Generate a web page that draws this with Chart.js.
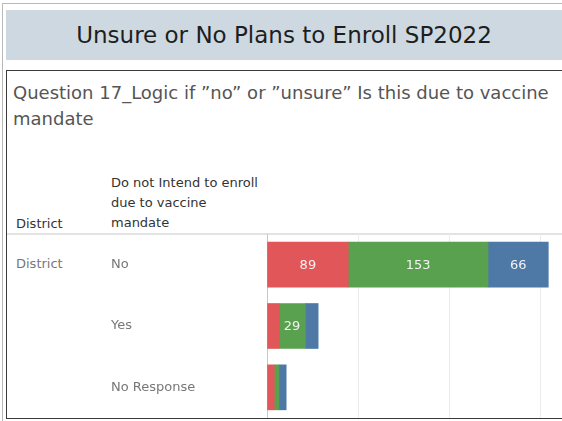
<!DOCTYPE html>
<html>
<head>
<meta charset="utf-8">
<script src="https://cdn.jsdelivr.net/npm/chart.js@4"></script>
<style>
  body { margin: 0; width: 562px; height: 421px; overflow: hidden; background: #fff; font-family: "DejaVu Sans", sans-serif; position: relative; }
  .frame { position: absolute; left: 2px; top: 3px; width: 580px; height: 430px; border: 1px solid #b9b9b9; }
  .banner { position: absolute; left: 6px; top: 10px; width: 556px; height: 50px; background: #cdd8e0; color: #1e1e1e; font-size: 23px; line-height: 50px; text-align: center; }
  .box { position: absolute; left: 6px; top: 70px; width: 570px; height: 347px; border: 1px solid #3a3a3a; border-right: none; }
  .question { position: absolute; left: 13px; top: 80px; width: 548px; font-size: 18px; line-height: 26px; color: #555; }
  .hdr { position: absolute; font-size: 13px; line-height: 20px; color: #333; }
  .row { position: absolute; font-size: 13px; color: #777; }
  .sep { position: absolute; left: 7px; top: 233px; width: 560px; height: 2px; background: #e3e3e3; }
  #wrap { position: absolute; left: 104px; top: 234px; width: 458px; height: 184px; }
</style>
</head>
<body>
<div class="frame"></div>
<div class="banner">Unsure or No Plans to Enroll SP2022</div>
<div class="box"></div>
<div class="question">Question 17_Logic if ”no” or ”unsure” Is this due to vaccine mandate</div>
<div class="hdr" style="left:16px; top:214px;">District</div>
<div class="hdr" style="left:111px; top:173px;">Do not Intend to enroll<br>due to vaccine<br>mandate</div>
<div class="sep"></div>
<div class="row" style="left:16px; top:256px;">District</div>
<div id="wrap"><canvas id="myChart"></canvas></div>

<script>
// categories and series
var categories = ['No', 'Yes', 'No Response'];
var redValues = [89, 13, 8];
var greenValues = [153, 29, 5];
var blueValues = [66, 14, 8];
var xTicks = [0, 100, 200, 300];
var xMax = 323;

// draw the count inside a segment when it is wide enough
var segmentLabels = {
  id: 'segmentLabels',
  afterDatasetsDraw: function (chart) {
    var ctx = chart.ctx;
    ctx.save();
    ctx.font = '13px "DejaVu Sans", sans-serif';
    ctx.fillStyle = '#f2f2f2';
    ctx.textAlign = 'center';
    ctx.textBaseline = 'middle';
    chart.data.datasets.forEach(function (ds, i) {
      var meta = chart.getDatasetMeta(i);
      meta.data.forEach(function (bar, j) {
        var v = ds.data[j];
        if (v >= 20) {
          ctx.fillText(String(v), (bar.x + bar.base) / 2, bar.y + 1);
        }
      });
    });
    ctx.restore();
  }
};

var ctx = document.getElementById('myChart').getContext('2d');
var myChart = new Chart(ctx, {
  type: 'bar',
  data: {
    labels: categories,
    datasets: [
      { data: redValues, backgroundColor: '#e15759' },
      { data: greenValues, backgroundColor: '#59a14f' },
      { data: blueValues, backgroundColor: '#4e79a7' }
    ]
  },
  options: {
    indexAxis: 'y',
    responsive: true,
    maintainAspectRatio: false,
    animation: false,
    events: [],
    layout: { padding: { left: 7, right: 0, top: 0, bottom: 0 } },
    datasets: { bar: { barThickness: 45, borderWidth: 0 } },
    plugins: { legend: { display: false }, tooltip: { enabled: false } },
    scales: {
      x: {
        stacked: true,
        min: 0,
        max: xMax,
        afterBuildTicks: function (scale) {
          scale.ticks = xTicks.map(function (v) { return { value: v }; });
        },
        afterFit: function (scale) {
          scale.height = 0;
          scale.paddingLeft = 0;
          scale.paddingRight = 0;
        },
        ticks: { display: false },
        grid: { color: '#ececec', drawTicks: false, lineWidth: 1 },
        border: { display: false }
      },
      y: {
        stacked: true,
        afterFit: function (scale) {
          scale.width = 156;
          scale.paddingTop = 0;
          scale.paddingBottom = 0;
        },
        ticks: {
          crossAlign: 'far',
          color: '#777',
          font: { family: '"DejaVu Sans", sans-serif', size: 13 }
        },
        grid: { display: false },
        border: { display: true, color: '#c8c8c8', width: 1 }
      }
    }
  },
  plugins: [segmentLabels]
});
</script>
</body>
</html>
